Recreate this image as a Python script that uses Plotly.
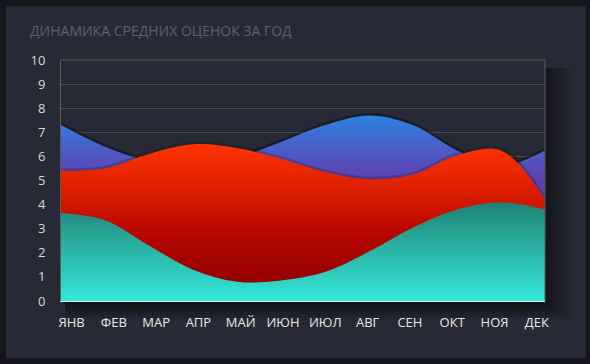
import plotly.graph_objects as go

months = ["ЯНВ", "ФЕВ", "МАР", "АПР", "МАЙ", "ИЮН", "ИЮЛ", "АВГ", "СЕН", "ОКТ", "НОЯ", "ДЕК"]
blue_vals = [7.3, 6.4, 5.8, 5.6, 5.95, 6.6, 7.3, 7.7, 7.3, 6.25, 5.6, 6.25]
red_vals = [5.4, 5.5, 6.1, 6.5, 6.35, 5.9, 5.35, 5.05, 5.25, 6.05, 6.25, 4.2]
teal_vals = [3.65, 3.35, 2.3, 1.3, 0.8, 0.85, 1.2, 2.05, 3.05, 3.8, 4.1, 3.8]
y_ticks = list(range(0, 11))
title_text = "ДИНАМИКА СРЕДНИХ ОЦЕНОК ЗА ГОД"

W, H = 590, 364
L, R, T, B = 61, 545, 60, 301  # plot area in pixels

x = list(range(len(months)))

fig = go.Figure()

series = [
    (blue_vals, [[0, "#6140ad"], [0.5, "#4a5ec8"], [1, "#2b82e2"]], 5.0, 7.7, "rgba(5,5,10,0.35)"),
    (red_vals, [[0, "#940000"], [0.35, "#b50600"], [0.7, "#df2000"], [1, "#ff3300"]], 0.7, 6.5, "rgba(5,5,10,0.2)"),
    (teal_vals, [[0, "#35e8da"], [0.5, "#2bb6a7"], [1, "#1f8275"]], 0.0, 4.1, None),
]

for vals, cs, s0, s1, sh in series:
    if sh:
        fig.add_trace(go.Scatter(
            x=x, y=vals, mode="lines", line=dict(color=sh, width=5, shape="spline", smoothing=1),
            hoverinfo="skip", showlegend=False))
    fig.add_trace(go.Scatter(
        x=x, y=vals, mode="lines", line=dict(width=0, shape="spline", smoothing=1, color="rgba(0,0,0,0)"),
        fill="tozeroy",
        fillgradient=dict(type="vertical", colorscale=cs, start=s0, stop=s1),
        hoverinfo="skip", showlegend=False))

# invisible trace for label axis
fig.add_trace(go.Scatter(x=x, y=[0] * len(x), xaxis="x2", mode="markers",
                         marker=dict(opacity=0), hoverinfo="skip", showlegend=False))

def px_x(p):
    return (p - L) / (R - L)

def px_y(p):
    return (B - p) / (B - T)

shapes = []
shapes.append(dict(type="rect", xref="paper", yref="paper", layer="below",
                   x0=px_x(6), x1=px_x(586), y0=px_y(358), y1=px_y(6),
                   fillcolor="#272a36", line=dict(width=0)))
for k in range(1, 9):
    off = k * 3
    shapes.append(dict(type="rect", xref="paper", yref="paper", layer="below",
                       x0=px_x(L + 4), x1=px_x(R + 2 + off), y0=px_y(B + 2 + off * 0.7), y1=px_y(T + 8),
                       fillcolor="rgba(8,8,12,0.09)", line=dict(width=0)))
shapes.append(dict(type="rect", xref="paper", yref="paper", layer="below",
                   x0=0, x1=1, y0=0, y1=1, fillcolor="#272a36", line=dict(width=0)))
shapes.append(dict(type="line", xref="paper", yref="paper", x0=0, x1=1, y0=1, y1=1,
                   line=dict(color="#5c5b59", width=1)))
shapes.append(dict(type="line", xref="paper", yref="paper", x0=1, x1=1, y0=0, y1=1,
                   line=dict(color="#5c5b59", width=1)))

fig.update_layout(
    width=W, height=H,
    margin=dict(l=L, r=W - R, t=T, b=H - B, pad=0),
    paper_bgcolor="#16171d",
    plot_bgcolor="rgba(0,0,0,0)",
    shapes=shapes,
    showlegend=False,
    hovermode=False,
    annotations=[dict(text=title_text, xref="paper", yref="paper",
                      x=px_x(28), y=px_y(31), xanchor="left", yanchor="middle",
                      showarrow=False, font=dict(family="Open Sans", size=14, color="#5d606a"))],
    xaxis=dict(range=[0, 11], showticklabels=False, showgrid=False, zeroline=False,
               showline=True, linecolor="#e0e6e6", linewidth=1, fixedrange=True, automargin=False),
    xaxis2=dict(overlaying="x", anchor="y", side="bottom",
                range=[-(71.5 - L) / 42.3, (R - 71.5) / 42.3],
                tickvals=x, ticktext=months, showgrid=False, zeroline=False, showline=False,
                ticks="", ticklabelstandoff=12, automargin=False,
                tickfont=dict(family="Open Sans", size=13, color="#e6e6e6")),
    yaxis=dict(range=[0, 10], tickvals=y_ticks, showgrid=True, gridcolor="#4b4a48", gridwidth=1,
               zeroline=False, showline=True, linecolor="#5c5b59", linewidth=1,
               ticks="", ticklabelstandoff=12, automargin=False,
               tickfont=dict(family="Open Sans", size=13, color="#d8d8d8")),
)

fig.write_html("out.html",
               config={"displayModeBar": False, "staticPlot": True},
               post_script="document.body.style.margin='0';document.body.style.padding='0';"
                           "document.body.style.background='#16171d';")
